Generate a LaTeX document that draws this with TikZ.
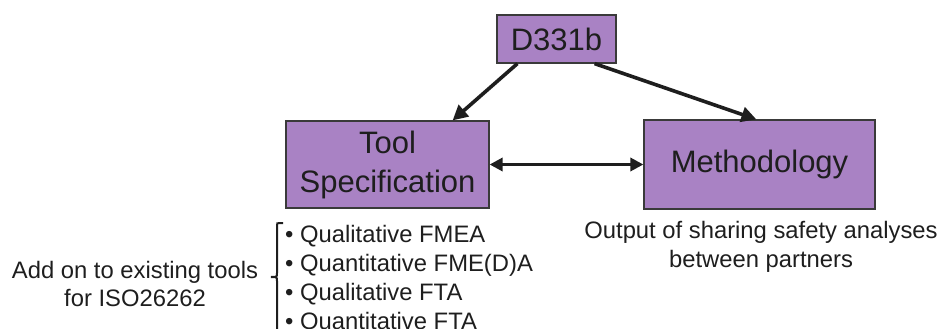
\documentclass[tikz,border=0pt]{standalone}
\usepackage{fontspec}
\setmainfont{Liberation Sans}
\usetikzlibrary{arrows.meta}
\definecolor{boxfill}{HTML}{A982C4}
\definecolor{boxline}{HTML}{3A3A3A}
\definecolor{ink}{HTML}{1E1E1E}
\tikzset{
  box/.style={draw=boxline, line width=1.2pt, fill=boxfill, text=ink,
    inner sep=0pt, align=center, font=\fontsize{31}{36}\selectfont},
  arr/.style={draw=ink, line width=3.6pt,
    -{Triangle[length=15pt,width=15pt]}},
  dblarr/.style={draw=ink, line width=3.2pt,
    {Triangle[length=13pt,width=13pt]}-{Triangle[length=13pt,width=13pt]}},
  note/.style={text=ink, align=center, inner sep=0pt,
    font=\fontsize{23.8}{28.5}\selectfont},
}
\begin{document}
\begin{tikzpicture}[x=1pt,y=-1pt]
\useasboundingbox (0,0) rectangle (939,329);

% boxes
\node[box, minimum width=119pt, minimum height=48pt] (d) at (556.5,39) {D331b};
\node[box, minimum width=203pt, minimum height=87pt] (tool) at (387.5,164.5)
  {Tool\\[3pt]Specification};
\node[box, minimum width=231pt, minimum height=89pt] (meth) at (759.5,164.5)
  {Methodology};

% connectors
\draw[arr] ([xshift=21pt]d.south west) -- ([xshift=-37pt]tool.north east);
\draw[arr] ([xshift=-22pt]d.south east) -- ([xshift=113pt]meth.north west);
\draw[dblarr] (tool.east) -- (meth.west);

% captions
\node[note] (out) at (761,247) {Output of sharing safety analyses\\between partners};
\node[note] (addon) at (135,284) {Add on to existing tools\\for ISO26262};

% bracket
\draw[ink, line width=2pt] (283,223) -- (280,223) .. controls (277,223) .. (277,226)
  -- (277,273) .. controls (277,277) .. (271,277) .. controls (277,277) .. (277,281)
  -- (277,332);

% bullet list
\node[note, anchor=north west, align=left,
  font=\fontsize{23.8}{29}\selectfont] (list) at (285,225)
  {\textbullet\ Qualitative FMEA\\
   \textbullet\ Quantitative FME(D)A\\
   \textbullet\ Qualitative FTA\\
   \textbullet\ Quantitative FTA};
\end{tikzpicture}
\end{document}
